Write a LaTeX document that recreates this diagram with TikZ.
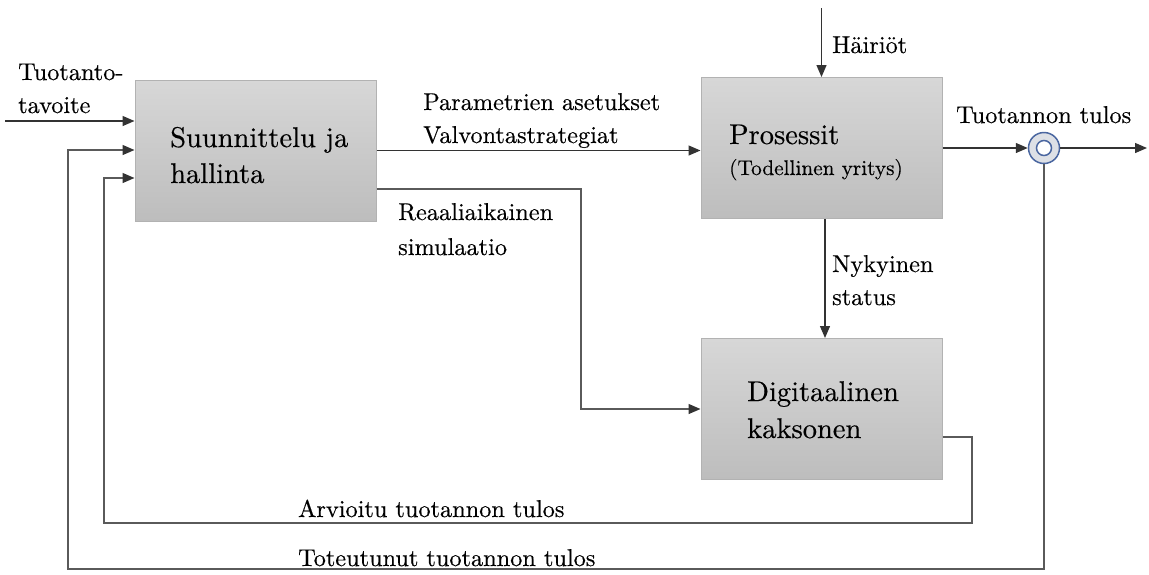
\documentclass[tikz,border=0pt]{standalone}
\usepackage{fontspec}
\setmainfont{lmroman10-regular}[Extension=.otf, FakeBold=0.35]
\usetikzlibrary{arrows.meta}
\definecolor{boxtop}{HTML}{D7D7D7}
\definecolor{boxbot}{HTML}{BDBDBD}
\definecolor{boxedge}{HTML}{B2B2B2}
\definecolor{linecol}{HTML}{333333}
\definecolor{loopcol}{HTML}{5A5A5A}
\definecolor{ringblue}{HTML}{4A66A0}
\definecolor{ringfill}{HTML}{DDE0E6}
\begin{document}
\begin{tikzpicture}[x=1pt,y=-1pt,
  block/.style={rectangle, draw=boxedge, line width=1pt, top color=boxtop, bottom color=boxbot,
    minimum width=241pt, minimum height=141pt, inner sep=0pt},
  link/.style={draw=linecol, line width=1.3pt},
  arr/.style={link, -{Triangle[length=12pt,width=10pt]}},
  looparr/.style={arr, draw=loopcol, -{Triangle[length=12pt,width=10pt,color=linecol]}},
  lbl/.style={font=\fontsize{24.3}{33}\selectfont, inner sep=0pt, anchor=base west, align=left},
  title/.style={font=\fontsize{28.5}{36}\selectfont, inner sep=0pt, anchor=base west, align=left},
  subtitle/.style={font=\fontsize{21.3}{28}\selectfont, inner sep=0pt, anchor=base west}]
\useasboundingbox (0,0) rectangle (1149,574);

% blocks
\node[block] (plan) at (255.5,150.5) {};
\node[block] (proc) at (821.5,148) {};
\node[block] (digi) at (821.5,409) {};
\node[circle, draw=ringblue, fill=ringfill, line width=1.5pt, minimum size=31pt, inner sep=0pt] (ring) at (1044,148) {};
\draw[draw=ringblue, fill=white, line width=1.5pt] (ring.center) circle (7.5pt);

% block titles (a multi-line node sits on the baseline of its last line)
\node[title] (planT) at (170,183) {Suunnittelu ja\\hallinta};
\node[title] (procT) at (729,144) {Prosessit};
\node[subtitle] (procS) at (729,175) {(Todellinen yritys)};
\node[title, font=\fontsize{28.5}{37}\selectfont] (digiT) at (747,438) {Digitaalinen\\kaksonen};

% forward connectors
\coordinate (goalin) at (5,121);
\draw[arr] (goalin) -- (goalin -| plan.west);
\draw[arr] (plan.east) -- (plan.east -| proc.west);
\coordinate (simc) at (581,189);
\draw[looparr] (plan.east |- simc) -- (simc) |- (digi.west);
\coordinate (distin) at (821.5,8);
\draw[arr] (distin) -- (proc.north);
\coordinate (st) at (825,0);
\draw[arr] (proc.south -| st) -- (digi.north -| st);
\draw[arr] (proc.east |- ring) -- (ring.west);
\coordinate (outend) at (1147,148);
\draw[arr] (ring.east) -- (outend);

% feedback loops
\coordinate (estc) at (972,523);
\coordinate (estin) at (104,178);
\draw[looparr] (digi.east |- 0,437) -| (estc) -| (estin) -- (estin -| plan.west);
\coordinate (actc) at (68,569);
\coordinate (actin) at (68,150);
\draw[looparr] (ring.south) |- (actc) -- (actin) -- (actin -| plan.west);

% signal labels
\node[lbl] (goal) at (18,113) {Tuotanto-\\tavoite};
\node[lbl] (param) at (423,143) {Parametrien asetukset\\Valvontastrategiat};
\node[lbl, font=\fontsize{24.3}{35}\selectfont] (sim) at (398,255) {Reaaliaikainen\\simulaatio};
\node[lbl] (dist) at (832,53) {Häiriöt};
\node[lbl] (result) at (956,123) {Tuotannon tulos};
\node[lbl] (stat) at (832,305) {Nykyinen\\status};
\node[lbl] (est) at (298,517) {Arvioitu tuotannon tulos};
\node[lbl] (act) at (298,566) {Toteutunut tuotannon tulos};
\end{tikzpicture}
\end{document}
